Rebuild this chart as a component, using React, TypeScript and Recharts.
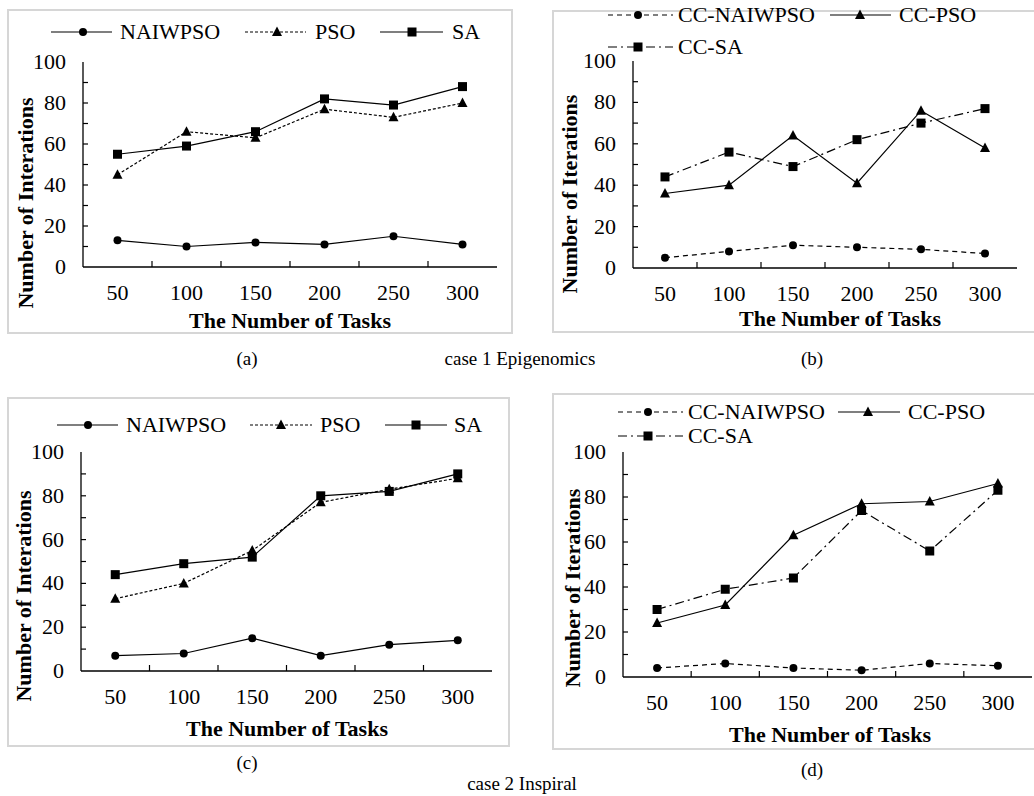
import { LineChart, Line, XAxis, YAxis } from "recharts";

const FONT = "'Liberation Serif', 'Times New Roman', Times, serif";

// x categories: number of tasks
const tasks = ["50", "100", "150", "200", "250", "300"];
const yTicks = [0, 10, 20, 30, 40, 50, 60, 70, 80, 90, 100];

// case 1 Epigenomics
const epiNaiwpso = [13, 10, 12, 11, 15, 11];
const epiPso = [45, 66, 63, 77, 73, 80];
const epiSa = [55, 59, 66, 82, 79, 88];
const epiCcNaiwpso = [5, 8, 11, 10, 9, 7];
const epiCcPso = [36, 40, 64, 41, 76, 58];
const epiCcSa = [44, 56, 49, 62, 70, 77];

// case 2 Inspiral
const insNaiwpso = [7, 8, 15, 7, 12, 14];
const insPso = [33, 40, 55, 77, 83, 88];
const insSa = [44, 49, 52, 80, 82, 90];
const insCcNaiwpso = [4, 6, 4, 3, 6, 5];
const insCcPso = [24, 32, 63, 77, 78, 86];
const insCcSa = [30, 39, 44, 74, 56, 83];

type MarkType = "circle" | "triangle" | "square";

interface Series {
  key: string;
  name: string;
  values: number[];
  dash?: string;
  mark: MarkType;
}

interface Box {
  left: number;
  top: number;
  right: number;
  bottom: number;
}

interface LegendEntry {
  name: string;
  dash?: string;
  mark: MarkType;
  x1: number;
  x2: number;
  mx: number;
  tx: number;
  y: number;
}

function Mark({ type, cx, cy }: { type: MarkType; cx: number; cy: number }) {
  if (cx == null || cy == null) return null;
  if (type === "circle") return <circle cx={cx} cy={cy} r={4} fill="#000" />;
  if (type === "square")
    return <rect x={cx - 4.5} y={cy - 4.5} width={9} height={9} fill="#000" />;
  return (
    <polygon
      points={`${cx},${cy - 5.5} ${cx - 5},${cy + 4} ${cx + 5},${cy + 4}`}
      fill="#000"
    />
  );
}

function XTick(props: any) {
  const { x, y, payload, index, band } = props;
  return (
    <g>
      {index < tasks.length - 1 && (
        <line x1={x + band / 2} x2={x + band / 2} y1={y} y2={y - 6} stroke="#000" strokeWidth={1.2} />
      )}
      <text x={x} y={y + 33} textAnchor="middle" fontSize={22} fontFamily={FONT} fill="#000">
        {payload.value}
      </text>
    </g>
  );
}

function YTick(props: any) {
  const { x, y, payload } = props;
  const ax = x + 17;
  return (
    <g>
      {payload.value > 0 && payload.value < 100 && (
        <line x1={ax} x2={ax + 5} y1={y} y2={y} stroke="#000" strokeWidth={1.2} />
      )}
      {payload.value % 20 === 0 && (
        <text x={x} y={y + 7} textAnchor="end" fontSize={22} fontFamily={FONT} fill="#000">
          {payload.value}
        </text>
      )}
    </g>
  );
}

function Panel({ box, plot, series }: { box: Box; plot: Box; series: Series[] }) {
  const data = tasks.map((t, i) => {
    const row: Record<string, string | number> = { task: t };
    series.forEach((s) => (row[s.key] = s.values[i]));
    return row;
  });
  const band = (plot.right - plot.left) / tasks.length;

  return (
    <>
      <div
        style={{
          position: "absolute",
          left: box.left,
          top: box.top,
          width: box.right - box.left,
          height: box.bottom - box.top,
          border: "2px solid #d6d6d6",
          boxSizing: "border-box",
        }}
      />
      <div style={{ position: "absolute", left: box.left, top: box.top }}>
        <LineChart
          width={box.right - box.left}
          height={box.bottom - box.top}
          data={data}
          margin={{ top: plot.top - box.top, right: box.right - plot.right, left: 0, bottom: 0 }}
        >
          <XAxis
            dataKey="task"
            height={box.bottom - plot.bottom}
            padding={{ left: band / 2, right: band / 2 }}
            axisLine={{ stroke: "#000", strokeWidth: 1.3 }}
            tickLine={false}
            tickSize={0}
            tickMargin={0}
            interval={0}
            tick={(p: any) => <XTick {...p} band={band} />}
          />
          <XAxis
            xAxisId="top"
            dataKey="task"
            orientation="top"
            height={0}
            padding={{ left: band / 2, right: band / 2 }}
            tick={false}
            tickLine={false}
            axisLine={{ stroke: "#000", strokeWidth: 1.3 }}
          />
          <YAxis
            domain={[0, 100]}
            ticks={yTicks}
            interval={0}
            width={plot.left - box.left}
            axisLine={{ stroke: "#000", strokeWidth: 1.3 }}
            tickLine={false}
            tickSize={0}
            tickMargin={17}
            tick={(p: any) => <YTick {...p} />}
          />
          <YAxis
            yAxisId="right"
            orientation="right"
            domain={[0, 100]}
            width={0}
            tick={false}
            tickLine={false}
            axisLine={{ stroke: "#000", strokeWidth: 1.3 }}
          />
          {series.map((s) => (
            <Line
              key={s.key}
              dataKey={s.key}
              name={s.name}
              stroke="#000"
              strokeWidth={1.2}
              strokeDasharray={s.dash}
              dot={(p: any) => <Mark key={`${s.key}-${p.index}`} type={s.mark} cx={p.cx} cy={p.cy} />}
              activeDot={false}
              isAnimationActive={false}
            />
          ))}
        </LineChart>
      </div>
    </>
  );
}

function LegendItem({ e }: { e: LegendEntry }) {
  return (
    <g>
      <line x1={e.x1} x2={e.x2} y1={e.y} y2={e.y} stroke="#000" strokeWidth={1.2} strokeDasharray={e.dash} />
      <Mark type={e.mark} cx={e.mx} cy={e.y} />
      <text x={e.tx} y={e.y + 7} fontSize={22} fontFamily={FONT} fill="#000">
        {e.name}
      </text>
    </g>
  );
}

const PSO_DASH = "3 2";
const CC_DASH = "5 4";
const CC_SA_DASH = "9 4 2 4";

const seriesA: Series[] = [
  { key: "naiwpso", name: "NAIWPSO", values: epiNaiwpso, mark: "circle" },
  { key: "pso", name: "PSO", values: epiPso, dash: PSO_DASH, mark: "triangle" },
  { key: "sa", name: "SA", values: epiSa, mark: "square" },
];
const seriesB: Series[] = [
  { key: "ccNaiwpso", name: "CC-NAIWPSO", values: epiCcNaiwpso, dash: CC_DASH, mark: "circle" },
  { key: "ccPso", name: "CC-PSO", values: epiCcPso, mark: "triangle" },
  { key: "ccSa", name: "CC-SA", values: epiCcSa, dash: CC_SA_DASH, mark: "square" },
];
const seriesC: Series[] = [
  { key: "naiwpso", name: "NAIWPSO", values: insNaiwpso, mark: "circle" },
  { key: "pso", name: "PSO", values: insPso, dash: PSO_DASH, mark: "triangle" },
  { key: "sa", name: "SA", values: insSa, mark: "square" },
];
const seriesD: Series[] = [
  { key: "ccNaiwpso", name: "CC-NAIWPSO", values: insCcNaiwpso, dash: CC_DASH, mark: "circle" },
  { key: "ccPso", name: "CC-PSO", values: insCcPso, mark: "triangle" },
  { key: "ccSa", name: "CC-SA", values: insCcSa, dash: CC_SA_DASH, mark: "square" },
];

function legendRow(list: Series[], y: number, spots: [number, number, number, number][]): LegendEntry[] {
  return list.map((s, i) => ({
    name: s.name,
    dash: s.dash,
    mark: s.mark,
    x1: spots[i][0],
    x2: spots[i][1],
    mx: spots[i][2],
    tx: spots[i][3],
    y,
  }));
}

const legends: LegendEntry[] = [
  ...legendRow(seriesA, 32, [[51, 112, 83, 120], [245, 306, 277, 315], [380, 443, 412, 452]]),
  ...legendRow(seriesB.slice(0, 2), 15, [[608, 673, 638, 678], [830, 891, 860, 899]]),
  ...legendRow(seriesB.slice(2), 47, [[608, 673, 638, 678]]),
  ...legendRow(seriesC, 425, [[57, 118, 88, 126], [250, 312, 281, 320], [385, 447, 416, 454]]),
  ...legendRow(seriesD.slice(0, 2), 412, [[618, 683, 648, 688], [838, 900, 868, 908]]),
  ...legendRow(seriesD.slice(2), 436, [[618, 683, 648, 688]]),
];

const yTitles = [
  { text: "Number of Interations", x: 25, y: 203 },
  { text: "Number of Iterations", x: 569, y: 194 },
  { text: "Number of Interations", x: 23, y: 596 },
  { text: "Number of Iterations", x: 572, y: 588 },
];
const xTitles = [
  { x: 290, y: 320 },
  { x: 840, y: 318 },
  { x: 287, y: 728 },
  { x: 830, y: 734 },
];
const captions = [
  { text: "(a)", x: 247, y: 358 },
  { text: "case 1 Epigenomics", x: 520, y: 358 },
  { text: "(b)", x: 812, y: 358 },
  { text: "(c)", x: 247, y: 762 },
  { text: "(d)", x: 812, y: 769 },
  { text: "case 2 Inspiral", x: 522, y: 783 },
];

export default function App() {
  return (
    <div
      style={{
        position: "absolute",
        left: 0,
        top: 0,
        width: 1034,
        height: 796,
        overflow: "hidden",
        background: "#fff",
        fontFamily: FONT,
      }}
    >
      <Panel box={{ left: 7, top: 9, right: 513, bottom: 334 }} plot={{ left: 83, top: 62, right: 497, bottom: 267 }} series={seriesA} />
      <Panel box={{ left: 552, top: 10, right: 1042, bottom: 333 }} plot={{ left: 633, top: 61, right: 1017, bottom: 268 }} series={seriesB} />
      <Panel box={{ left: 7, top: 397, right: 510, bottom: 747 }} plot={{ left: 81, top: 452, right: 492, bottom: 671 }} series={seriesC} />
      <Panel box={{ left: 552, top: 393, right: 1042, bottom: 750 }} plot={{ left: 623, top: 452, right: 1032, bottom: 677 }} series={seriesD} />
      <svg
        width={1034}
        height={796}
        style={{ position: "absolute", left: 0, top: 0, pointerEvents: "none" }}
      >
        {legends.map((e, i) => (
          <LegendItem key={i} e={e} />
        ))}
        {yTitles.map((t, i) => (
          <text
            key={`yt${i}`}
            x={t.x}
            y={t.y}
            transform={`rotate(-90 ${t.x} ${t.y})`}
            textAnchor="middle"
            dominantBaseline="central"
            fontSize={22}
            fontWeight="bold"
            fontFamily={FONT}
            fill="#000"
          >
            {t.text}
          </text>
        ))}
        {xTitles.map((t, i) => (
          <text
            key={`xt${i}`}
            x={t.x}
            y={t.y}
            textAnchor="middle"
            dominantBaseline="central"
            fontSize={22}
            fontWeight="bold"
            fontFamily={FONT}
            fill="#000"
          >
            The Number of Tasks
          </text>
        ))}
        {captions.map((c, i) => (
          <text
            key={`c${i}`}
            x={c.x}
            y={c.y}
            textAnchor="middle"
            dominantBaseline="central"
            fontSize={19}
            fontFamily={FONT}
            fill="#000"
          >
            {c.text}
          </text>
        ))}
      </svg>
    </div>
  );
}
